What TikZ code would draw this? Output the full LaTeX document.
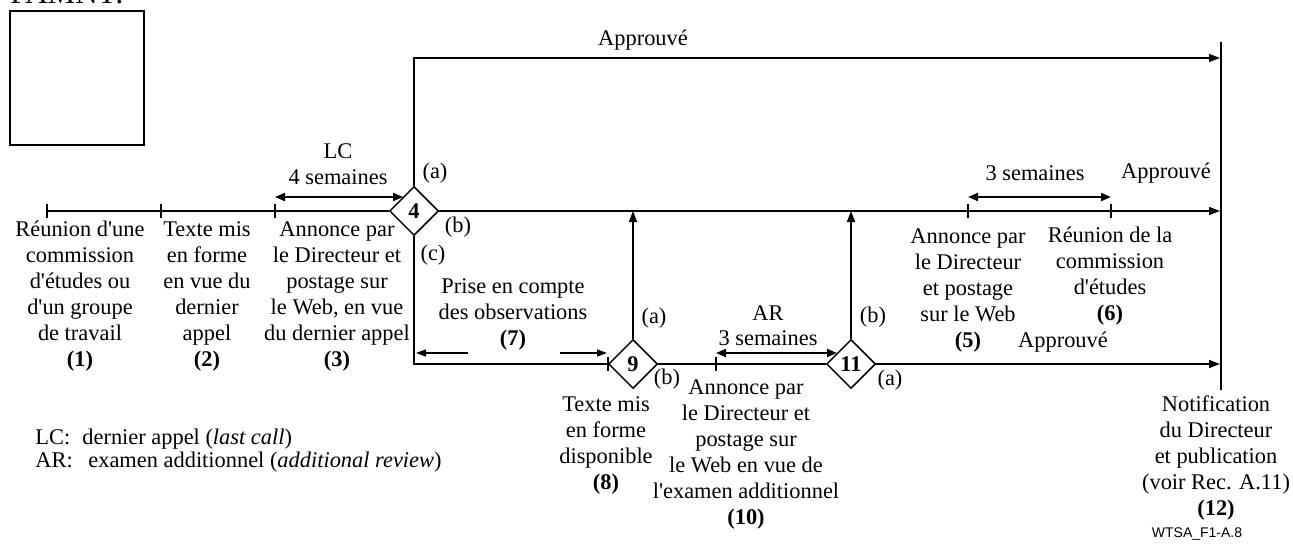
\documentclass[tikz,border=0pt]{standalone}
\usepackage{fontspec}
\setmainfont{Liberation Serif}
\newfontfamily\sansf{Liberation Sans}
\usetikzlibrary{shapes.geometric,arrows.meta}
\newcommand\fs{\rmfamily\fontsize{11.2pt}{13pt}\selectfont}
\newcommand\ap{\textquotesingle}
\begin{document}
\begin{tikzpicture}[x=0.5pt,y=-0.5pt,
  lbl/.style={font=\fs, align=center, inner sep=0pt, anchor=base},
  sl/.style={font=\fs, inner sep=0pt},
  dia/.style={draw, shape=diamond, minimum width=24.5pt, minimum height=24.5pt, inner sep=0pt, font=\fs\bfseries, line width=0.75pt},
  ln/.style={line width=0.75pt},
  thinln/.style={line width=0.6pt},
  arr/.style={line width=0.75pt, -{Triangle[length=5.5pt,width=4pt]}},
  tarr/.style={line width=0.55pt, -{Triangle[length=5pt,width=3.5pt]}},
  dbl/.style={line width=1pt, {Triangle[length=5pt,width=4pt]}-{Triangle[length=5pt,width=4pt]}}]
\useasboundingbox (0,0) rectangle (1293,545);
\fill[white] (0,0) rectangle (1293,545);
% header fragment and box
\node[anchor=base west, inner sep=0pt, font=\rmfamily\fontsize{15.5pt}{18pt}\selectfont] (hdr) at (10,4) {FAMNT:};
\node[draw, line width=1pt, minimum width=67pt, minimum height=67pt, inner sep=0pt] (sq) at (77,78) {};
% diamonds
\node[dia] (d4) at (414,211) {4};
\node[dia] (d9) at (633,364) {9};
\node[dia] (d11) at (851,364) {11};
% coordinates
\coordinate (s) at (47,211);
\coordinate (e1) at (1220,211);
\coordinate (etop) at (1220,58);
\coordinate (e3) at (1220,364);
\coordinate (vt) at (1221,42);
\coordinate (vb) at (1221,390);
% connectors
\draw[ln] (s) -- (d4.west);
\draw[arr] (d4.east) -- (e1);
\draw[arr] (d4.north) |- (etop);
\draw[ln] (d4.south) |- (d9.west);
\draw[arr] (d9.north) -- (d9.north |- s);
\draw[ln] (d9.east) -- (d11.west);
\draw[arr] (d11.north) -- (d11.north |- s);
\draw[arr] (d11.east) -- (e3);
\draw[thinln] (vt) -- (vb);
% ticks
\foreach \x in {47,161,275,968,1111} \draw[ln] (\x,204) -- (\x,218);
\foreach \x in {608,716} \draw[ln] (\x,357) -- (\x,371);
% duration arrows
\coordinate (lc1) at (275,197); \coordinate (lc2) at (403,197);
\draw[dbl] (lc1) -- (lc2);
\coordinate (ar1) at (716,353); \coordinate (ar2) at (837,353);
\draw[dbl] (ar1) -- (ar2);
\coordinate (sw1) at (968,197); \coordinate (sw2) at (1111,197);
\draw[dbl] (sw1) -- (sw2);
\coordinate (p1) at (468,353); \coordinate (p1e) at (416,353);
\coordinate (p2) at (560,353); \coordinate (p2e) at (607,353);
\draw[tarr] (p1) -- (p1e);
\draw[tarr] (p2) -- (p2e);
% single labels
\node[sl] (appT) at (643,40) {Approuvé};
\node[sl] (lct) at (338,151) {LC};
\node[sl] (lcw) at (338,177) {4 semaines};
\node[sl] (sw) at (1035,173) {3 semaines};
\node[sl] (app2) at (1166,173) {Approuvé};
\node[sl] (app3) at (1063,342) {Approuvé};
\node[sl] (art) at (768,313) {AR};
\node[sl] (arw) at (768,338) {3 semaines};
\node[sl] (a4) at (435,173) {(a)};
\node[sl] (b4) at (458,227) {(b)};
\node[sl] (c4) at (433,255) {(c)};
\node[sl] (a9) at (654,318) {(a)};
\node[sl] (b9) at (667,379) {(b)};
\node[sl] (b11) at (873,317) {(b)};
\node[sl] (a11) at (890,380) {(a)};
% step texts (anchor base = last line)
\node[lbl] (t1) at (80,366) {Réunion d\ap une\\commission\\d\ap études ou\\d\ap un groupe\\de travail\\\textbf{(1)}};
\node[lbl] (t2) at (207,366) {Texte mis\\en forme\\en vue du\\dernier\\appel\\\textbf{(2)}};
\node[lbl] (t3) at (337,366) {Annonce par\\le Directeur et\\postage sur\\le Web, en vue\\du dernier appel\\\textbf{(3)}};
\node[lbl] (t5) at (968,347) {Annonce par\\le Directeur\\et postage\\sur le Web\\\textbf{(5)}};
\node[lbl] (t6) at (1110,320) {Réunion de la\\commission\\d\ap études\\\textbf{(6)}};
\node[lbl] (t7) at (513,345) {Prise en compte\\des observations\\\textbf{(7)}};
\node[lbl] (t8) at (606,489) {Texte mis\\en forme\\disponible\\\textbf{(8)}};
\node[lbl] (t10) at (746,524) {Annonce par\\le Directeur et\\postage sur\\le Web en vue de\\l\ap examen additionnel\\\textbf{(10)}};
\node[lbl] (t12) at (1216,515) {Notification\\du Directeur\\et publication\\(voir Rec. A.11)\\\textbf{(12)}};
% legend
\node[anchor=base west, sl] (lg1a) at (35,444) {LC:};
\node[anchor=base west, sl] (lg1b) at (82,444) {dernier appel (\textit{last call})};
\node[anchor=base west, sl] (lg2a) at (35,467) {AR:};
\node[anchor=base west, sl] (lg2b) at (88,467) {examen additionnel (\textit{additional review})};
\node[inner sep=0pt, font=\sansf\fontsize{7pt}{8pt}\selectfont] (ref) at (1197,534) {WTSA\_F1-A.8};
\end{tikzpicture}
\end{document}
